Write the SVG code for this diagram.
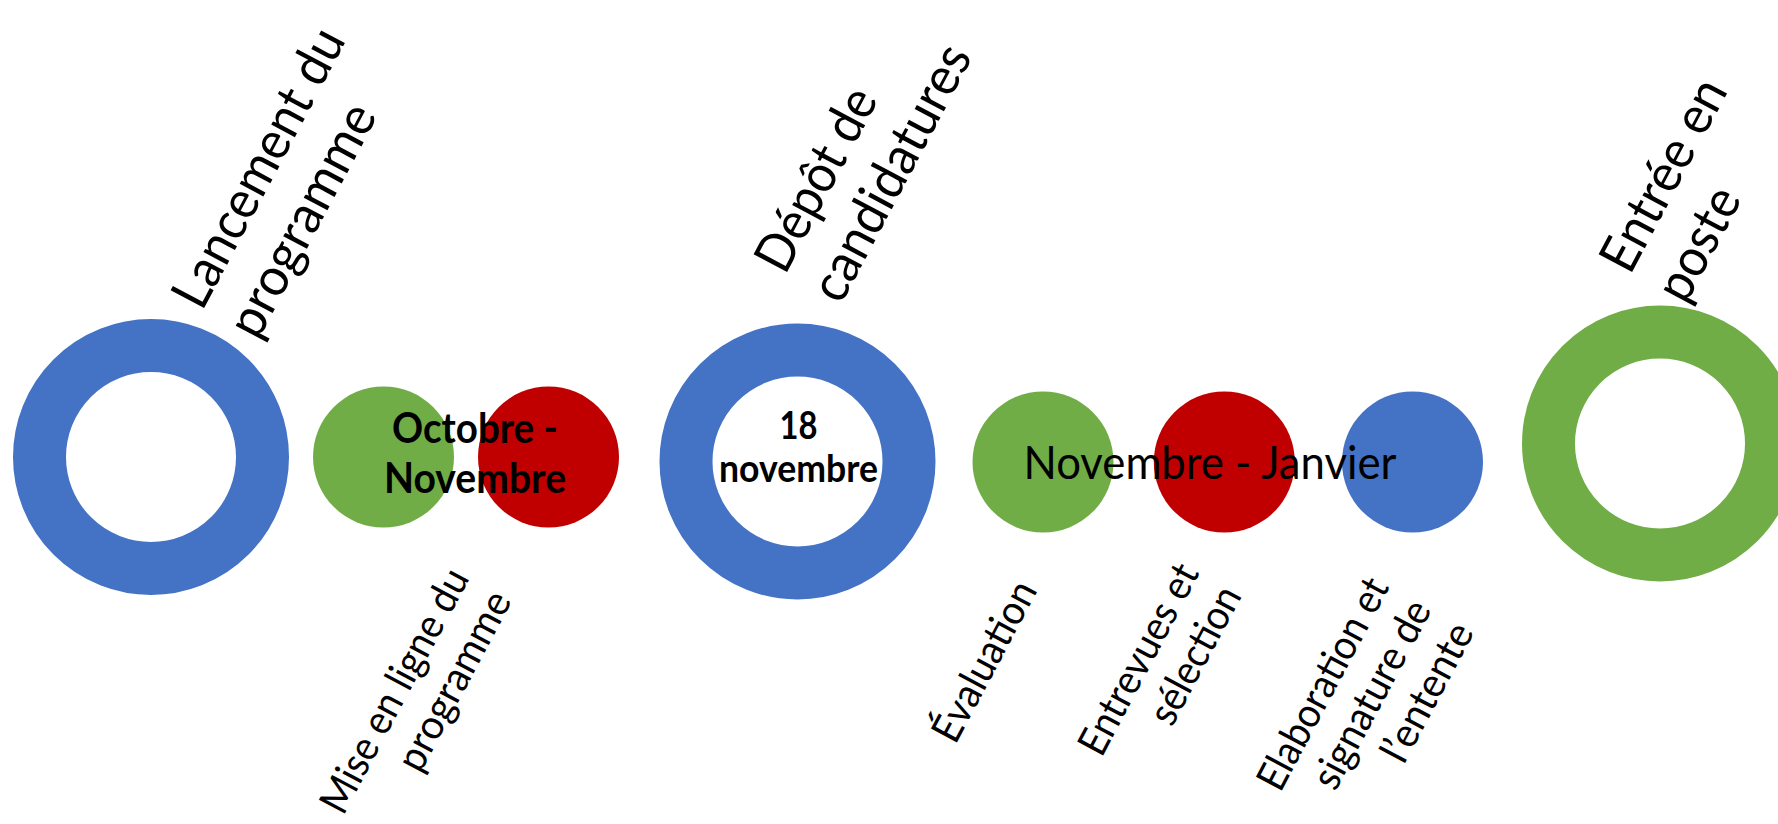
<svg xmlns="http://www.w3.org/2000/svg" width="1778" height="824" viewBox="0 0 1778 824">
<style>
.ring{fill:none;stroke-width:53}
.t{font-family:Lato,'Liberation Sans',sans-serif;fill:#000}
.top{font-size:53px}
.bot{font-size:41px}
.mid{font-weight:bold;text-anchor:middle}
.blue{fill:#4472C4}.green{fill:#70AD47}.red{fill:#C00000}
</style>
<rect width="1778" height="824" fill="#fff"/>
<g id="connectors"/>
<g id="node-lancement">
<circle class="ring" cx="151" cy="457" r="111.5" stroke="#4472C4"/>
<g transform="translate(202,312) rotate(-62)">
<text class="t top" x="0" y="0" textLength="308" lengthAdjust="spacingAndGlyphs">Lancement du</text>
<text class="t top" x="0" y="63" textLength="256" lengthAdjust="spacingAndGlyphs">programme</text>
</g>
</g>
<g id="node-mise-en-ligne">
<circle class="green" cx="383.5" cy="457" r="70.5"/>
<circle class="red" cx="548.5" cy="457" r="70.5"/>
<text class="t mid" x="475" y="443" font-size="42.7" textLength="166" lengthAdjust="spacingAndGlyphs">Octobre -</text>
<text class="t mid" x="475" y="493" font-size="42.7" textLength="182" lengthAdjust="spacingAndGlyphs">Novembre</text>
<g transform="translate(470,578) rotate(-62)" text-anchor="end">
<text class="t bot" x="0" y="0" textLength="270" lengthAdjust="spacingAndGlyphs">Mise en ligne du</text>
<text class="t bot" x="0" y="48" textLength="197" lengthAdjust="spacingAndGlyphs">programme</text>
</g>
</g>
<g id="node-depot">
<circle class="ring" cx="797.5" cy="461.5" r="111.5" stroke="#4472C4"/>
<text class="t mid" x="798.5" y="438.5" font-size="37.3" textLength="38" lengthAdjust="spacingAndGlyphs">18</text>
<text class="t mid" x="798.5" y="481.5" font-size="37.3" textLength="159" lengthAdjust="spacingAndGlyphs">novembre</text>
<g transform="translate(785,276) rotate(-62)">
<text class="t top" x="0" y="0" textLength="200" lengthAdjust="spacingAndGlyphs">Dépôt de</text>
<text class="t top" x="0" y="63" textLength="282" lengthAdjust="spacingAndGlyphs">candidatures</text>
</g>
</g>
<g id="node-selection">
<circle class="green" cx="1043" cy="462" r="70.5"/>
<circle class="red" cx="1224.3" cy="462" r="70.5"/>
<circle class="blue" cx="1412.5" cy="462" r="70.5"/>
<text class="t" x="1210" y="479.3" font-size="47.3" text-anchor="middle" textLength="373" lengthAdjust="spacingAndGlyphs">Novembre - Janvier</text>
<g transform="translate(1038,590) rotate(-62)" text-anchor="end">
<text class="t bot" x="0" y="0" textLength="176" lengthAdjust="spacingAndGlyphs">Évaluation</text>
</g>
<g transform="translate(1200,573) rotate(-62)" text-anchor="end">
<text class="t bot" x="0" y="0" textLength="210" lengthAdjust="spacingAndGlyphs">Entrevues et</text>
<text class="t bot" x="0" y="48" textLength="150" lengthAdjust="spacingAndGlyphs">sélection</text>
</g>
<g transform="translate(1390,587) rotate(-62)" text-anchor="end">
<text class="t bot" x="0" y="0" textLength="234" lengthAdjust="spacingAndGlyphs">Elaboration et</text>
<text class="t bot" x="0" y="48" textLength="207" lengthAdjust="spacingAndGlyphs">signature de</text>
<text class="t bot" x="0" y="96" textLength="151" lengthAdjust="spacingAndGlyphs">l’entente</text>
</g>
</g>
<g id="node-entree">
<circle class="ring" cx="1660" cy="443.5" r="111.5" stroke="#70AD47"/>
<g transform="translate(1630,276) rotate(-62)">
<text class="t top" x="0" y="0" textLength="210" lengthAdjust="spacingAndGlyphs">Entrée en</text>
<text class="t top" x="0" y="63" textLength="121" lengthAdjust="spacingAndGlyphs">poste</text>
</g>
</g>
</svg>
